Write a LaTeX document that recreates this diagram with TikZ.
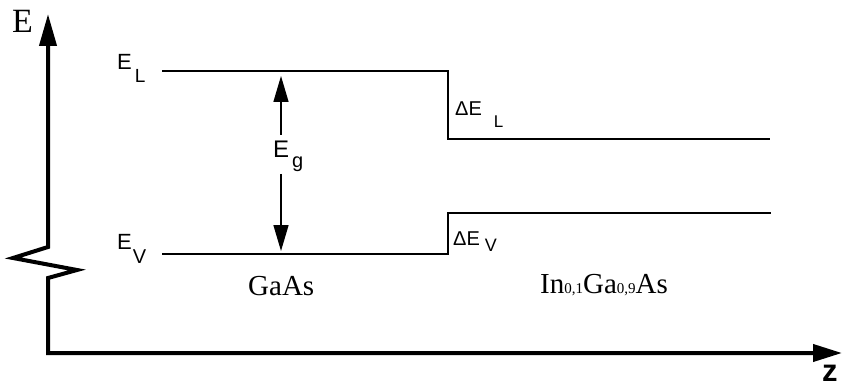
\documentclass[tikz,border=0pt]{standalone}
\usepackage{fontspec}
\setmainfont{Liberation Serif}
\newfontfamily\helv{Liberation Sans}
\usetikzlibrary{arrows.meta}
% gap, drop, size, text
\newcommand{\lowsub}[4]{\hspace{#1}\raisebox{-#2}{\fontsize{#3}{#3}\selectfont #4}}
\newcommand{\fs}[1]{\fontsize{#1}{#1}\selectfont}
\begin{document}
\begin{tikzpicture}[x=1pt,y=-1pt,
        axis/.style={line width=4pt, line join=miter, {Triangle[length=32pt,width=17pt]}-{Triangle[length=29pt,width=17pt]}},
        band/.style={line width=2pt},
        gaparrow/.style={line width=1.5pt, -{Triangle[length=26pt,width=15pt]}},
        lvl/.style={inner sep=0pt, anchor=base west, font=\helv},
        mat/.style={inner sep=0pt, anchor=base west, font=\fs{29}}
    ]
    \useasboundingbox (0,0) rectangle (842,387);
    % axes with the break
    \coordinate (Etop) at (48,14);
    \coordinate (corner) at (48,353);
    \coordinate (zend) at (842,353);
    \draw[axis] (Etop) -- (48,247) -- (13,258) -- (77,270) -- (48,278) -- (corner) -- (zend);
    \node[inner sep=0pt, anchor=base west, font=\fs{34}] (Elab) at (12,33) {E};
    \node[inner sep=0pt, anchor=base west, font=\helv\bfseries\fs{31}] (zlab) at (822,381) {z};
    % band edges
    \coordinate (ELa) at (162,71);
    \coordinate (ELb) at (448,71);
    \coordinate (ELc) at (448,139);
    \coordinate (ELd) at (770,139);
    \coordinate (EVa) at (162,254);
    \coordinate (EVb) at (448,254);
    \coordinate (EVc) at (448,213);
    \coordinate (EVd) at (771,213);
    \draw[band] (ELa) -- (ELb) -- (ELc) -- (ELd);
    \draw[band] (EVa) -- (EVb) -- (EVc) -- (EVd);
    \node[lvl] (ELlab) at (117,70) {\fs{22}E\lowsub{3pt}{13pt}{19}{L}};
    \node[lvl] (EVlab) at (117,249) {\fs{22}E\lowsub{1pt}{14pt}{20}{V}};
    \node[lvl] (dELlab) at (455,116) {\fs{20}ΔE\lowsub{12pt}{12pt}{17}{L}};
    \node[lvl] (dEVlab) at (453,245) {\fs{20}ΔE\lowsub{5pt}{6pt}{18}{V}};
    % gap
    \node[lvl] (Eg) at (273,158) {\fs{24}E\lowsub{3pt}{10pt}{20}{g}};
    \coordinate (gUp) at (281,76);
    \coordinate (gDn) at (281,251);
    \coordinate (gA) at (281,135);
    \coordinate (gB) at (281,174);
    \draw[gaparrow] (gA) -- (gUp);
    \draw[gaparrow] (gB) -- (gDn);
    % materials
    \node[mat] (GaAs) at (248,295) {GaAs};
    \node[mat] (InGaAs) at (540,293) {In{\fs{15}0,1}Ga{\fs{15}0,9}As};
\end{tikzpicture}
\end{document}
